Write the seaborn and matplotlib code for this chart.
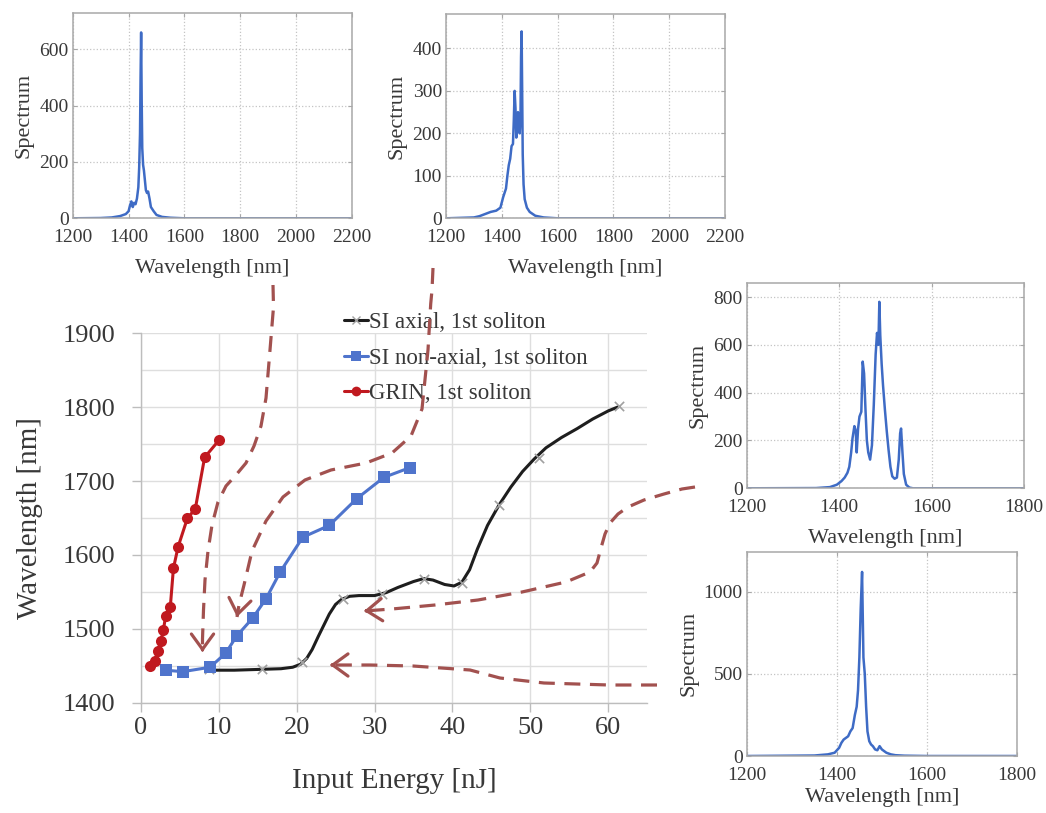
import numpy as np
import matplotlib
matplotlib.use("Agg")
import matplotlib.pyplot as plt
import seaborn as sns
from matplotlib.lines import Line2D

# ---------------- main chart data ----------------
si_axial_curve_x = [9.3, 12, 15, 18, 19.5, 20.5, 21.3, 22.0, 22.8, 23.5, 24.2, 25.0, 25.8,
                    26.8, 28, 30, 31.5, 33, 35, 36.3, 37.5, 39, 40.2, 41.2, 42.2, 43.2,
                    44.5, 46, 47.5, 49, 50.5, 52, 54, 56, 58, 60, 61.4]
si_axial_curve_y = [1444, 1444, 1445, 1446, 1448, 1452, 1460, 1472, 1490, 1505, 1520, 1533, 1540,
                    1544, 1545, 1545, 1549, 1556, 1564, 1568, 1566, 1560, 1558, 1563, 1580, 1608,
                    1640, 1668, 1692, 1713, 1730, 1745, 1759, 1771, 1784, 1795, 1801]
si_axial_marker_x = [8.8, 15.5, 20.7, 26.0, 31.0, 36.3, 41.2, 46.0, 51.1, 61.4]
si_axial_marker_y = [1445, 1446, 1455, 1541, 1547, 1568, 1562, 1668, 1731, 1801]

si_nonaxial_x = [3.2, 5.4, 8.9, 10.9, 12.3, 14.4, 16.1, 17.9, 20.8, 24.2, 27.7, 31.2, 34.5]
si_nonaxial_y = [1444, 1442, 1448, 1467, 1490, 1515, 1541, 1577, 1624, 1640, 1676, 1705, 1718]

grin_x = [1.2, 1.8, 2.2, 2.6, 2.9, 3.2, 3.8, 4.2, 4.8, 6.0, 7.0, 8.2, 10.1]
grin_y = [1449, 1457, 1470, 1484, 1498, 1517, 1530, 1582, 1611, 1650, 1662, 1732, 1756]

legend_labels = ["SI axial, 1st soliton", "SI non-axial, 1st soliton", "GRIN, 1st soliton"]

# ---------------- inset spectra data ----------------
spec1_wl = [1200, 1300, 1340, 1370, 1390, 1400, 1405, 1410, 1415, 1420, 1425, 1430, 1435, 1438,
            1441, 1443, 1445, 1447, 1449, 1452, 1455, 1458, 1462, 1466, 1470, 1475, 1480, 1490,
            1500, 1520, 1550, 1600, 2200]
spec1_val = [0, 1, 3, 8, 15, 25, 45, 60, 40, 55, 50, 70, 110, 180,
             300, 500, 660, 420, 250, 190, 170, 140, 100, 90, 95, 70, 40, 25,
             12, 5, 2, 0, 0]

spec2_wl = [1200, 1300, 1320, 1340, 1360, 1380, 1395, 1405, 1415, 1420, 1425, 1430, 1435, 1440,
            1443, 1446, 1449, 1452, 1455, 1458, 1461, 1464, 1467, 1469, 1471, 1473, 1475, 1478,
            1482, 1490, 1500, 1520, 1550, 1600, 2200]
spec2_val = [0, 2, 5, 10, 15, 18, 25, 50, 70, 100, 125, 140, 170, 175,
             230, 300, 260, 190, 220, 250, 210, 200, 240, 380, 440, 300, 150, 80,
             45, 25, 15, 6, 2, 0, 0]

spec3_wl = [1200, 1350, 1380, 1395, 1405, 1412, 1418, 1422, 1426, 1429, 1433, 1436, 1438, 1441,
            1444, 1448, 1451, 1454, 1457, 1460, 1463, 1467, 1471, 1475, 1479, 1482, 1485, 1487,
            1489, 1492, 1495, 1499, 1503, 1507, 1511, 1515, 1520, 1525, 1529, 1532, 1534, 1537,
            1540, 1545, 1552, 1560, 1800]
spec3_val = [0, 1, 5, 15, 30, 45, 65, 90, 150, 210, 260, 240, 150, 250,
             300, 320, 530, 480, 330, 200, 150, 120, 180, 350, 560, 650, 600, 780,
             640, 520, 430, 330, 240, 160, 90, 50, 40, 45, 120, 230, 250, 150,
             60, 15, 3, 0, 0]

spec4_wl = [1200, 1350, 1380, 1395, 1405, 1410, 1415, 1420, 1425, 1430, 1435, 1440, 1444, 1447,
            1450, 1453, 1456, 1459, 1462, 1465, 1468, 1472, 1476, 1480, 1485, 1490, 1495, 1500,
            1505, 1510, 1520, 1530, 1550, 1600, 1800]
spec4_val = [0, 3, 10, 20, 50, 80, 100, 110, 120, 150, 170, 250, 300, 400,
             600, 900, 1120, 600, 500, 300, 150, 90, 70, 60, 40, 35, 60, 40,
             30, 20, 10, 5, 2, 0, 0]

# annotation paths (figure pixel coordinates)
arrow_paths = [
    [(273, 285), (273.5, 307), (270, 350), (266, 398), (261, 426), (254, 446), (246, 463),
     (236, 475), (226, 486), (218, 502), (212, 525), (208, 551), (205, 580), (203.5, 610),
     (202.5, 639), (202.5, 652)],
    [(433, 268), (432, 290), (430.7, 304), (428, 350), (422, 409), (411, 436), (392, 453),
     (366, 463), (331, 470), (305, 480), (283, 497), (266, 521), (252, 551), (244, 585),
     (239, 605), (237, 617)],
    [(695, 487), (682, 489), (664, 494), (644, 500), (628, 507), (618, 514), (610, 523),
     (605, 534), (601, 548), (597, 563), (590, 572), (566, 582), (522, 592), (478, 600),
     (435, 605), (392, 609), (364, 611)],
    [(657, 685), (609, 685), (544, 683), (500, 678), (470, 670), (413, 666), (370, 665),
     (330, 665)],
]

# ---------------- styling ----------------
sns.set_theme(style="white")
plt.rcParams['font.family'] = ['Liberation Serif', 'DejaVu Serif']

W, H = 1046, 813
fig = plt.figure(figsize=(W / 100, H / 100), dpi=100)


def px_rect(l, t, r, b):
    return [l / W, 1 - b / H, (r - l) / W, (b - t) / H]


TXT = '#383838'
GRID = '#DEDEDE'
AXC = '#BDBDBD'

# ---------------- main axes ----------------
ax = fig.add_axes(px_rect(140.7, 333.3, 647.3, 702.7))
sns.lineplot(x=si_axial_curve_x, y=si_axial_curve_y, ax=ax, color='#1E1E1E', lw=2.2,
             sort=False, zorder=3)
sns.scatterplot(x=si_axial_marker_x, y=si_axial_marker_y, ax=ax, marker='x',
                color='#A0A0A0', s=45, linewidth=1.2, zorder=4)
sns.lineplot(x=si_nonaxial_x, y=si_nonaxial_y, ax=ax, color='#4F74CC', lw=2.2,
             marker='s', markersize=8, markeredgewidth=0, sort=False, zorder=5)
sns.lineplot(x=grin_x, y=grin_y, ax=ax, color='#C0191F', lw=2.2,
             marker='o', markersize=8, markeredgewidth=0, sort=False, zorder=6)

ax.set_xlim(0, 65)
ax.set_ylim(1400, 1900)
ax.set_xticks(range(0, 61, 10))
ax.set_yticks(range(1400, 1901, 100))
ax.set_yticks(range(1450, 1900, 100), minor=True)
ax.grid(axis='x', which='major', color=GRID, lw=1)
ax.grid(axis='y', which='both', color=GRID, lw=1)
ax.set_axisbelow(True)
for s in ['top', 'right']:
    ax.spines[s].set_visible(False)
for s in ['left', 'bottom']:
    ax.spines[s].set_color(AXC)
    ax.spines[s].set_linewidth(1)
ax.tick_params(which='major', direction='out', length=6.5, width=1, color=AXC,
               labelsize=19, labelcolor=TXT, left=True, bottom=True)
ax.tick_params(axis='y', pad=12)
ax.tick_params(axis='x', pad=3.5)
ax.tick_params(which='minor', length=0)
ax.set_xlabel('Input Energy [nJ]', fontsize=21, color=TXT, labelpad=21)
ax.set_ylabel('Wavelength [nm]', fontsize=21, color=TXT, labelpad=14)
if ax.get_legend() is not None:
    ax.get_legend().remove()

handles = [
    Line2D([], [], color='#1E1E1E', lw=2.2, marker='x', markeredgecolor='#A0A0A0', markersize=6),
    Line2D([], [], color='#4F74CC', lw=2.2, marker='s', markersize=7, markeredgewidth=0),
    Line2D([], [], color='#C0191F', lw=2.2, marker='o', markersize=7, markeredgewidth=0),
]
fig.legend(handles, legend_labels, loc='upper left', bbox_to_anchor=(344 / W, 1 - 312 / H),
           frameon=False, fontsize=16.5, handlelength=1.05, handletextpad=0.05,
           labelspacing=0.63, borderpad=0, borderaxespad=0, labelcolor=TXT)

# ---------------- insets ----------------
SPEC = '#3E6BC5'


def inset(rect, wl, val, xlim, ylim, xticks, yticks, xlabelpad=9):
    a = fig.add_axes(px_rect(*rect))
    sns.lineplot(x=wl, y=val, ax=a, color=SPEC, lw=1.8, sort=False)
    a.set_xlim(*xlim)
    a.set_ylim(*ylim)
    a.set_xticks(xticks)
    a.set_yticks(yticks)
    a.grid(True, ls=':', color='#C4C4C4', lw=0.9)
    for s in a.spines.values():
        s.set_visible(True)
        s.set_color('#A8A8A8')
        s.set_linewidth(1.1)
    a.tick_params(direction='in', length=3, width=0.8, color='#A8A8A8', labelsize=14,
                  labelcolor=TXT, top=True, right=True, bottom=True, left=True)
    a.tick_params(axis='x', pad=8)
    a.tick_params(axis='y', pad=3)
    a.set_xlabel('Wavelength [nm]', fontsize=16, color=TXT, labelpad=xlabelpad)
    a.set_ylabel('Spectrum', fontsize=16, color=TXT, labelpad=4)
    return a


inset((72.7, 13.3, 352, 218.3), spec1_wl, spec1_val, (1200, 2200), (0, 728),
      range(1200, 2201, 200), range(0, 601, 200))
inset((446, 14, 725, 218.3), spec2_wl, spec2_val, (1200, 2200), (0, 481),
      range(1200, 2201, 200), range(0, 401, 100))
inset((746.7, 282.7, 1024, 488.3), spec3_wl, spec3_val, (1200, 1800), (0, 860),
      range(1200, 1801, 200), range(0, 801, 200))
inset((747, 551.7, 1016.7, 756), spec4_wl, spec4_val, (1200, 1800), (0, 1243),
      range(1200, 1801, 200), [0, 500, 1000], xlabelpad=3)

# ---------------- annotation arrows overlay ----------------
ov = fig.add_axes([0, 0, 1, 1], zorder=20)
ov.set_xlim(0, W)
ov.set_ylim(H, 0)
ov.set_axis_off()
ov.patch.set_alpha(0)
ACOL = '#A2514F'
for path in arrow_paths:
    xs = [p[0] for p in path]
    ys = [p[1] for p in path]
    ov.plot(xs, ys, color=ACOL, lw=2.3, ls=(0, (5, 3)), solid_capstyle='butt',
            dash_capstyle='butt')
    tip = np.array(path[-1], dtype=float)
    prev = np.array(path[-2], dtype=float)
    d = tip - prev
    d = d / np.linalg.norm(d)
    ov.annotate('', xy=tuple(tip), xytext=tuple(tip - d * 3),
                arrowprops=dict(arrowstyle='->,head_length=0.55,head_width=0.4',
                                color=ACOL, lw=2.3, shrinkA=0, shrinkB=0,
                                mutation_scale=20))

fig.savefig('out.png', dpi=100)
